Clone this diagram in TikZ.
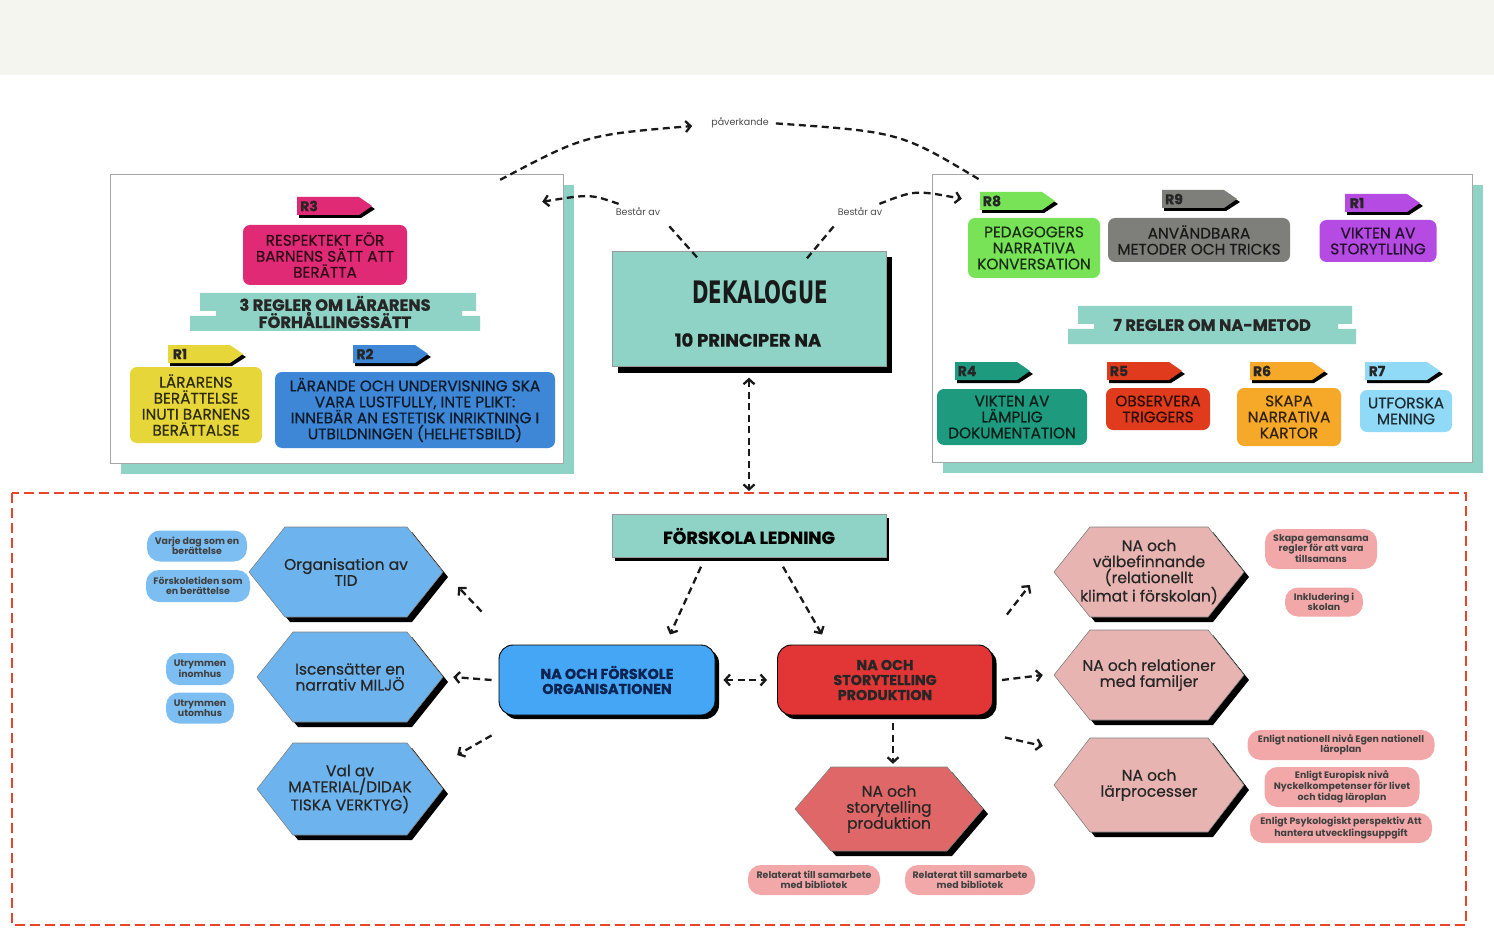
\documentclass[tikz,border=0pt]{standalone}
\usepackage{fontspec}
\setmainfont{Poppins}
\newfontfamily\medfont{Poppins}[FakeBold=0.5]
\newfontfamily\heavyfont{Poppins}[FakeBold=0.8]
\newfontfamily\dekafont{DejaVu Sans}[FakeStretch=0.64]
\usetikzlibrary{arrows.meta, shadows, positioning, calc}

\definecolor{bandgray}{HTML}{F4F5EF}
\definecolor{tealbox}{HTML}{8ED3C5}
\definecolor{magbox}{HTML}{E02A75}
\definecolor{yelbox}{HTML}{E6D63A}
\definecolor{bluetwo}{HTML}{3E86D6}
\definecolor{greenbox}{HTML}{78E357}
\definecolor{graybox}{HTML}{7E7E7B}
\definecolor{purplebox}{HTML}{B64BE3}
\definecolor{dteal}{HTML}{1E9A7F}
\definecolor{redfive}{HTML}{DF3B1C}
\definecolor{orangesix}{HTML}{F6A929}
\definecolor{lblueseven}{HTML}{90D9F7}
\definecolor{orgblue}{HTML}{45A6F6}
\definecolor{storyred}{HTML}{E23636}
\definecolor{navytext}{HTML}{0B2350}
\definecolor{hexblue}{HTML}{6DB4EE}
\definecolor{pillblue}{HTML}{7CBEF2}
\definecolor{hexpink}{HTML}{E8B4B2}
\definecolor{pillpink}{HTML}{F2A8A8}
\definecolor{hexred}{HTML}{E06767}
\definecolor{framered}{HTML}{EA4429}

\newcommand{\boxfont}{\medfont\fontsize{15.3}{16}\selectfont}
\newcommand{\headfont}{\heavyfont\bfseries\fontsize{16.3}{16}\selectfont}
\newcommand{\hexfont}{\medfont\fontsize{15.5}{16}\selectfont}
\newcommand{\pillfont}{\bfseries\fontsize{9.4}{10}\selectfont}
\newcommand{\notefont}{\fontsize{9.5}{11}\selectfont}

% rule tag: name, x, y, label, colour
\newcommand{\rtag}[5]{%
  \fill[black] (#2+2,#3+3) -- (#2+64,#3+3) -- (#2+78,#3+12) -- (#2+64,#3+21) -- (#2+2,#3+21) -- cycle;
  \fill[#5] (#2,#3) -- (#2+62,#3) -- (#2+75,#3+9) -- (#2+62,#3+18) -- (#2,#3+18) -- cycle;
  \node[tagtext] (#1) at (#2+12,#3+9) {#4};}

% hexagon: name, cx, cy, half width, half height, colour, text
\newcommand{\hexbox}[7]{%
  \begin{scope}[shift={(#2,#3)}]
    \fill[black] (-#4+5,5) -- (-#4+41,#5+5) -- (#4-31,#5+5) -- (#4+5,5) -- (#4-31,-#5+5) -- (-#4+41,-#5+5) -- cycle;
    \filldraw[fill=#6, draw=black!50, line width=0.6pt] (-#4,0) -- (-#4+36,#5) -- (#4-36,#5) -- (#4,0) -- (#4-36,-#5) -- (-#4+36,-#5) -- cycle;
  \end{scope}
  \node[hextext, minimum width=2*#4, minimum height=2*#5] (#1) at (#2,#3) {#7};}

% notched banner: name, cx, cy, half width, text
\newcommand{\bannerbox}[5]{%
  \begin{scope}[shift={(#2,#3)}]
    \fill[tealbox] (-#4+10,-19) -- (#4-4,-19) -- (#4-4,-1) -- (#4-18,-1) -- (#4-18,4) -- (#4,4) -- (#4,19) -- (-#4,19) -- (-#4,4) -- (-#4+26,4) -- (-#4+26,-1) -- (-#4+10,-1) -- cycle;
  \end{scope}
  \node[bannertext] (#1) at (#2,#3) {#5};}

\begin{document}
\begin{tikzpicture}[x=1pt, y=-1pt,
    >={Straight Barb[length=5pt, width=11pt]},
    panel/.style={draw=black!35, fill=white, drop shadow={shadow xshift=11pt, shadow yshift=-11pt, fill=tealbox, opacity=1}},
    blackshadow/.style={drop shadow={shadow xshift=#1, shadow yshift=-#1, fill=black, opacity=1}},
    mainbox/.style={fill=tealbox, draw=black!40, align=center},
    rbox/.style={rounded corners=7pt, fill=#1, text=#1!20!black, align=center, font=\boxfont, inner sep=2pt},
    bannertext/.style={align=center, font=\headfont, text=black!85},
    tagtext/.style={font=\heavyfont\bfseries\fontsize{14}{14}\selectfont, text=black!85, inner sep=0pt},
    hextext/.style={align=center, font=\hexfont, text=black!85, inner sep=0pt},
    pill/.style={rounded corners=13pt, fill=#1, align=center, font=\pillfont, text=black!75, inner sep=1pt},
    capsule/.style={rounded corners=14pt, fill=#1, draw=black, line width=0.9pt, align=center, font=\heavyfont\bfseries\fontsize{14.3}{15}\selectfont, blackshadow=4pt},
    lbl/.style={font=\notefont, text=black!70, inner sep=1pt},
    dline/.style={draw=black!90, line width=2.3pt, dash pattern=on 7pt off 4.5pt},
    conn/.style={dline, ->},
    both/.style={dline, <->}
  ]
  \useasboundingbox (0,0) rectangle (1494,933);
  \fill[white] (0,0) rectangle (1494,933);
  \fill[bandgray] (0,0) rectangle (1494,75);

  % panels
  \node[panel, minimum width=453, minimum height=289] (leftpanel) at (336.5,318.5) {};
  \node[panel, minimum width=540, minimum height=288] (rightpanel) at (1202,318) {};

  % left panel: three rules
  \rtag{tagrthree}{297}{197}{R3}{magbox}
  \node[rbox=magbox, minimum width=164, minimum height=60] (respekt) at (325,255) {RESPEKTEKT FÖR\\BARNENS SÄTT ATT\\BERÄTTA};
  \bannerbox{threerules}{335}{312}{145}{3 REGLER OM LÄRARENS\\FÖRHÅLLINGSSÄTT}
  \rtag{tagrone}{168}{345}{R1}{yelbox}
  \rtag{tagrtwo}{353}{345}{R2}{bluetwo}
  \node[rbox=yelbox, minimum width=132, minimum height=76] (lararens) at (196,405) {LÄRARENS\\BERÄTTELSE\\INUTI BARNENS\\BERÄTTALSE};
  \node[rbox=bluetwo, minimum width=280, minimum height=76] (larande) at (415,410) {LÄRANDE OCH UNDERVISNING SKA\\VARA LUSTFULLY, INTE PLIKT:\\INNEBÄR AN ESTETISK INRIKTNING I\\UTBILDNINGEN (HELHETSBILD)};

  % right panel: seven rules
  \rtag{tagreight}{980}{192}{R8}{greenbox}
  \rtag{tagrnine}{1162}{190}{R9}{graybox}
  \rtag{tagronep}{1345}{194}{R1}{purplebox}
  \node[rbox=greenbox, minimum width=132, minimum height=60] (pedagog) at (1034,248) {PEDAGOGERS\\NARRATIVA\\KONVERSATION};
  \node[rbox=graybox, minimum width=182, minimum height=44] (anvand) at (1199,240) {ANVÄNDBARA\\METODER OCH TRICKS};
  \node[rbox=purplebox, minimum width=117, minimum height=42] (storyt) at (1378,241) {VIKTEN AV\\STORYTLLING};
  \bannerbox{sevenrules}{1212}{325}{144}{7 REGLER OM NA-METOD}
  \rtag{tagrfour}{955}{362}{R4}{dteal}
  \rtag{tagrfive}{1107}{362}{R5}{redfive}
  \rtag{tagrsix}{1250}{362}{R6}{orangesix}
  \rtag{tagrseven}{1365}{362}{R7}{lblueseven}
  \node[rbox=dteal, minimum width=150, minimum height=56] (dokument) at (1012,417) {VIKTEN AV\\LÄMPLIG\\DOKUMENTATION};
  \node[rbox=redfive, minimum width=104, minimum height=42] (observ) at (1158,409) {OBSERVERA\\TRIGGERS};
  \node[rbox=orangesix, minimum width=104, minimum height=58] (kartor) at (1289,417) {SKAPA\\NARRATIVA\\KARTOR};
  \node[rbox=lblueseven, minimum width=92, minimum height=42] (mening) at (1406,411) {UTFORSKA\\MENING};

  % dekalogue
  \node[mainbox, blackshadow=6pt, minimum width=274, minimum height=115] (dekal) at (749,309) {};
  \node[font=\dekafont\bfseries\fontsize{31}{31}\selectfont, text=black!90, inner sep=0pt] (dekaltitle) at (760,292) {DEKALOGUE};
  \node[font=\heavyfont\bfseries\fontsize{18}{18}\selectfont, text=black!90, inner sep=0pt] (dekalsub) at (748,340) {10 PRINCIPER NA};

  \node[lbl] (pav) at (740,123) {påverkande};
  \node[lbl] (bestl) at (638,212) {Består av};
  \node[lbl] (bestr) at (860,212) {Består av};
  \coordinate (pavstart) at ([xshift=-63pt,yshift=-6pt]leftpanel.north east);
  \coordinate (pavend) at ([xshift=48pt,yshift=-6pt]rightpanel.north west);
  \draw[conn] (pavstart) .. controls (585,135) .. ([xshift=-18pt,yshift=-3pt]pav.west);
  \draw[dline, shorten <=6pt] (pav.east) .. controls (900,132) .. (pavend);
  \draw[dline] ([xshift=-52pt,yshift=-6pt]dekal.north) -- ([xshift=6pt,yshift=-7pt]bestl.south east);
  \draw[conn] ([xshift=4pt,yshift=3pt]bestl.north west) .. controls (590,194) .. ([xshift=-21pt,yshift=-28pt]leftpanel.north east);
  \draw[dline] ([xshift=58pt,yshift=-7pt]dekal.north) -- ([xshift=-1pt,yshift=-7pt]bestr.south west);
  \draw[conn] ([xshift=-4pt,yshift=3pt]bestr.north east) .. controls (915,190) .. ([xshift=30pt,yshift=-25pt]rightpanel.north west);

  % frame
  \coordinate (frametop) at (749,491);
  \draw[both] ([yshift=-11pt]dekal.south) -- (frametop);
  \draw[framered, line width=2.8pt, dash pattern=on 10pt off 5pt] (12,493) rectangle (1466,925);

  % leadership and the two main capsules
  \node[mainbox, blackshadow=3pt, minimum width=274, minimum height=43, font=\heavyfont\bfseries\fontsize{17.5}{18}\selectfont] (ledning) at (749,536) {FÖRSKOLA LEDNING};
  \node[capsule=orgblue, minimum width=216, minimum height=70, text=navytext] (naorg) at (607,680) {NA OCH FÖRSKOLE\\ORGANISATIONEN};
  \node[capsule=storyred, minimum width=215, minimum height=70, text=black!85] (nastory) at (885,680) {NA OCH\\STORYTELLING\\PRODUKTION};

  % hexagons
  \hexbox{orgtid}{346}{572}{97}{45}{hexblue}{Organisation av\\TID}
  \hexbox{miljo}{350}{677}{93}{45}{hexblue}{Iscensätter en\\narrativ MILJÖ}
  \hexbox{material}{350}{789}{93}{46}{hexblue}{Val av\\MATERIAL/DIDAK\\TISKA VERKTYG)}
  \hexbox{valbef}{1149}{572}{95}{45}{hexpink}{NA och\\välbefinnande\\(relationellt\\klimat i förskolan)}
  \hexbox{relfam}{1149}{675}{95}{45}{hexpink}{NA och relationer\\med familjer}
  \hexbox{larproc}{1149}{785}{95}{47}{hexpink}{NA och\\lärprocesser}
  \hexbox{hexprod}{889}{809}{94}{42}{hexred}{NA och\\storytelling\\produktion}

  % pills
  \node[pill=pillblue, minimum width=100, minimum height=31] (dag) at (197,546) {Varje dag som en\\berättelse};
  \node[pill=pillblue, minimum width=104, minimum height=32] (fortid) at (198,586) {Förskoletiden som\\en berättelse};
  \node[pill=pillblue, minimum width=68, minimum height=32] (inomhus) at (200,669) {Utrymmen\\inomhus};
  \node[pill=pillblue, minimum width=68, minimum height=31] (utomhus) at (200,708) {Utrymmen\\utomhus};
  \node[pill=pillpink, minimum width=112, minimum height=40] (regler) at (1321,549) {Skapa gemansama\\regler för att vara\\tillsamans};
  \node[pill=pillpink, minimum width=78, minimum height=29] (inklud) at (1324,602) {Inkludering i\\skolan};
  \node[pill=pillpink, minimum width=187, minimum height=30] (nationell) at (1341,745) {Enligt nationell nivå Egen nationell\\läroplan};
  \node[pill=pillpink, minimum width=155, minimum height=40] (europ) at (1342,787) {Enligt Europisk nivå\\Nyckelkompetenser för livet\\och tidag läroplan};
  \node[pill=pillpink, minimum width=182, minimum height=30] (psyk) at (1341,828) {Enligt Psykologiskt perspektiv Att\\hantera utvecklingsuppgift};
  \node[pill=pillpink, minimum width=132, minimum height=30] (bibone) at (814,880) {Relaterat till samarbete\\med bibliotek};
  \node[pill=pillpink, minimum width=130, minimum height=30] (bibtwo) at (970,880) {Relaterat till samarbete\\med bibliotek};

  % connectors
  \draw[conn] ([xshift=-48pt,yshift=-9pt]ledning.south) -- ([xshift=63pt,yshift=10pt]naorg.north);
  \draw[conn] ([xshift=34pt,yshift=-9pt]ledning.south) -- ([xshift=-63pt,yshift=10pt]nastory.north);
  \draw[both] ([xshift=8pt]naorg.east) -- ([xshift=-10pt]nastory.west);
  \draw[conn] ([xshift=8pt,yshift=-8pt]nastory.south) -- ([xshift=4pt,yshift=3pt]hexprod.north);
  \draw[conn] ([xshift=-17pt,yshift=33pt]naorg.north west) -- ([xshift=15pt,yshift=-15pt]orgtid.east);
  \draw[conn] ([xshift=-7pt]naorg.west) -- ([xshift=10pt]miljo.east);
  \draw[conn] ([xshift=-7pt,yshift=-20pt]naorg.south west) -- ([xshift=14pt,yshift=34pt]material.east);
  \draw[conn] ([xshift=14pt,yshift=30pt]nastory.north east) -- ([xshift=-24pt,yshift=-13pt]valbef.west);
  \draw[conn] ([xshift=9pt]nastory.east) -- ([xshift=-11pt]relfam.west);
  \draw[conn] ([xshift=12pt,yshift=-22pt]nastory.south east) -- ([xshift=-11pt,yshift=39pt]larproc.west);
\end{tikzpicture}
\end{document}
